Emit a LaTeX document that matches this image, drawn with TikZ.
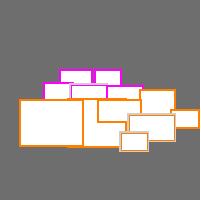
\documentclass[tikz,border=0pt]{standalone}
\usetikzlibrary{positioning}

\definecolor{bggray}{RGB}{110,110,110}
\definecolor{tilepink}{RGB}{255,0,255}
\definecolor{tileorange}{RGB}{255,128,0}
\definecolor{halo}{RGB}{205,205,205}

\begin{document}
\begin{tikzpicture}[
	x=1pt, y=-1pt,
	tile/.style={
		rectangle, fill=white, line width=1.4pt,
		inner sep=0pt, outer sep=0pt,
		preaction={draw=halo, line width=2.4pt}
	},
	haloed/.style={line width=0.8pt, preaction={draw=halo, line width=3.8pt}},
	pinktile/.style={tile, draw=tilepink},
	orangetile/.style={tile, draw=tileorange}
]

% Canvas
\fill[bggray] (0,0) rectangle (200,200);
\useasboundingbox (0,0) rectangle (200,200);

% Top row, magenta
\node[pinktile, minimum width=32pt, minimum height=16pt] (p1) at (76, 78) {};
\node[pinktile, minimum width=26pt, minimum height=16pt] (p2) at (108, 78) {};
\node[pinktile, minimum width=29pt, minimum height=17pt] (p3) at (58.5, 91.5) {};
\node[pinktile, haloed, minimum width=35pt, minimum height=15pt] (p4) at (88.5, 92.5) {};
\node[pinktile, minimum width=36pt, minimum height=14pt] (p5) at (125, 93) {};

% Right side, orange
\node[orangetile, minimum width=35pt, minimum height=25pt] (o9)  at (157.5, 102.5) {};
\node[orangetile, minimum width=28pt, minimum height=18pt] (o10) at (185, 119) {};

% Lower block, orange
\node[orangetile, minimum width=58pt, minimum height=48pt] (o7) at (97, 123) {};
\node[orangetile, minimum width=63pt, minimum height=46pt] (o6) at (51.5, 123) {};
\node[orangetile, minimum width=43pt, minimum height=22pt] (o8) at (119.5, 111) {};
\node[orangetile, haloed, minimum width=45pt, minimum height=25pt] (o11) at (151.5, 127.5) {};
\node[orangetile, haloed, minimum width=26pt, minimum height=17pt] (o12) at (134, 141.5) {};

\end{tikzpicture}
\end{document}
